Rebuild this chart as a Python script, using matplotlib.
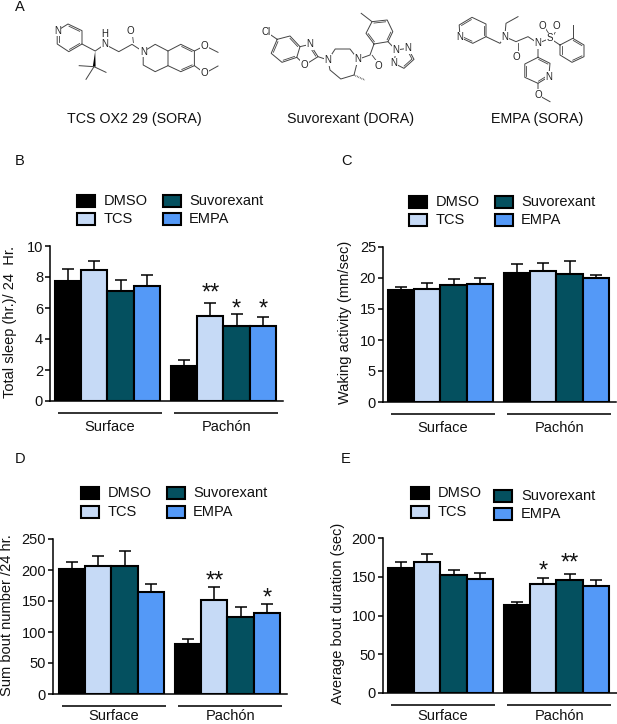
import numpy as np
from matplotlib import pyplot as plt
from matplotlib.patches import Rectangle

plt.rcParams['font.family'] = ['Liberation Sans', 'DejaVu Sans']

W, H = 617, 724

treatments = ["DMSO", "TCS", "Suvorexant", "EMPA"]
colors = ["#000000", "#c6daf6", "#04505f", "#5499f7"]
groups = ["Surface", "Pachón"]

sleep_vals = [7.75, 8.45, 7.1, 7.4, 2.25, 5.5, 4.85, 4.85]
sleep_tops = [8.5, 9.05, 7.8, 8.15, 2.65, 6.3, 5.6, 5.4]
sleep_stars = {5: ("**", 7.3), 6: ("*", 6.3), 7: ("*", 6.3)}

wake_vals = [18, 18.2, 18.8, 19, 20.8, 21.2, 20.7, 20]
wake_tops = [18.5, 19.2, 19.8, 20, 22.3, 22.4, 22.7, 20.5]

bout_vals = [201, 206, 206, 165, 81, 152, 125, 130]
bout_tops = [213, 222, 230, 177, 89, 173, 141, 145]
bout_stars = {5: ("**", 190), 7: ("*", 163)}

dur_vals = [161, 169, 152, 147, 113, 141, 146, 138]
dur_tops = [169, 179, 159, 155, 118, 149, 154, 146]
dur_stars = {5: ("*", 164), 6: ("**", 175)}

MX, MY = 2.5, 3.0
mol_chains = [
    # TCS OX2 29
    [(143, 92), (170, 72), (205, 92), (205, 132), (172, 155), (143, 132), (143, 92)],
    [(205, 132), (238, 153), (262, 133), (297, 155), (330, 133), (358, 155), (388, 133),
     (420, 153), (420, 197), (388, 215), (358, 195), (358, 155)],
    [(420, 153), (452, 133), (486, 153), (486, 197), (452, 215), (420, 197)],
    [(486, 153), (512, 137), (545, 157)], [(486, 197), (512, 220), (545, 198)],
    [(198, 197), (235, 200), (265, 217)], [(235, 200), (215, 238)],
    # Suvorexant
    [(665, 95), (693, 118)],
    [(693, 118), (725, 108), (750, 140), (742, 172), (705, 187), (678, 160), (693, 118)],
    [(750, 140), (775, 133), (795, 170), (762, 195), (742, 172)],
    [(795, 170), (820, 180), (838, 147), (875, 147), (895, 178), (885, 225), (852, 237),
     (825, 210), (820, 180)],
    [(895, 178), (925, 165), (935, 132), (915, 100), (930, 65), (968, 60), (982, 95),
     (970, 125), (935, 132)],
    [(930, 65), (903, 40)], [(970, 125), (990, 150), (1020, 145), (1035, 178), (1010, 205),
                             (985, 190), (990, 150)],
    # EMPA
    [(1150, 112), (1148, 75), (1180, 52), (1215, 72), (1215, 110), (1182, 130), (1150, 112)],
    [(1215, 110), (1250, 130), (1262, 110), (1290, 125), (1320, 110), (1345, 130), (1375, 115),
     (1400, 135), (1432, 115), (1460, 135), (1460, 170), (1430, 187), (1400, 165), (1400, 135)],
    [(1262, 110), (1265, 70), (1295, 50)], [(1432, 115), (1432, 75)],
    [(1345, 130), (1345, 172), (1375, 190), (1372, 230), (1345, 250), (1312, 232), (1312, 192),
     (1345, 172)],
    [(1345, 250), (1345, 285), (1375, 305)],
]
mol_doubles = [
    ((170, 72), (205, 92)), ((205, 132), (172, 155)), ((143, 132), (143, 92)),
    ((330, 133), (326, 93)), ((452, 133), (486, 153)), ((486, 197), (452, 215)),
    ((725, 108), (750, 140)), ((705, 187), (742, 172)), ((678, 160), (693, 118)),
    ((775, 133), (795, 170)), ((925, 165), (945, 197)), ((915, 100), (935, 132)),
    ((930, 65), (968, 60)), ((982, 95), (970, 125)), ((1035, 178), (1010, 205)),
    ((1020, 145), (1035, 178)), ((1148, 75), (1180, 52)), ((1215, 72), (1215, 110)),
    ((1182, 130), (1150, 112)), ((1290, 125), (1290, 170)), ((1375, 115), (1355, 78)),
    ((1375, 115), (1392, 78)), ((1432, 115), (1460, 135)), ((1460, 170), (1430, 187)),
    ((1400, 165), (1400, 135)), ((1345, 172), (1375, 190)), ((1372, 230), (1345, 250)),
    ((1312, 232), (1312, 192)),
]
# second line of a ring double bond goes to the inside of the nearest ring
mol_ring_centers = [(174, 113), (453, 175), (715, 148), (775, 165), (948, 97), (1010, 172),
                    (1182, 92), (1430, 150), (1343, 211)]
mol_labels = [
    ("N", 143, 92), ("H", 263, 103), ("N", 262, 133), ("O", 326, 93), ("N", 358, 155),
    ("O", 512, 137), ("O", 512, 220), ("Cl", 665, 95), ("N", 775, 133), ("O", 762, 195),
    ("N", 820, 180), ("N", 895, 178), ("O", 945, 197), ("N", 990, 150), ("N", 1020, 145),
    ("N", 985, 190), ("N", 1150, 112), ("N", 1262, 110), ("O", 1290, 170), ("N", 1345, 130),
    ("S", 1375, 115), ("O", 1355, 78), ("O", 1392, 78), ("N", 1372, 230), ("O", 1345, 285),
]
mol_names = [("TCS OX2 29 (SORA)", 134), ("Suvorexant (DORA)", 351), ("EMPA (SORA)", 537)]

panel_letters = [("A", 20, 7), ("B", 20, 161), ("C", 346, 161), ("D", 20, 459), ("E", 346, 459)]

fig = plt.figure(figsize=(W / 100, H / 100), dpi=100)

# overlay in picture pixels for the molecules, legends and panel letters
over = fig.add_axes([0, 0, 1, 1], zorder=5)
over.set_xlim(0, W)
over.set_ylim(H, 0)
over.axis("off")


def draw_molecules():
    scale = np.array([MX, MY])
    centers = np.array(mol_ring_centers) / scale
    for chain in mol_chains:
        pts = np.array(chain) / scale
        over.plot(pts[:, 0], pts[:, 1], color="#444444", lw=0.7)
    for a, b in mol_doubles:
        a, b = np.array(a) / scale, np.array(b) / scale
        n = np.array([b[1] - a[1], a[0] - b[0]])
        n = n / np.hypot(*n) * 1.6
        mid = (a + b) / 2
        c = centers[np.argmin(np.hypot(*(centers - mid).T))]
        if np.dot(c - mid, n) < 0:
            n = -n
        a2, b2 = a + 0.12 * (b - a) + n, b - 0.12 * (b - a) + n
        over.plot([a2[0], b2[0]], [a2[1], b2[1]], color="#444444", lw=0.6)
    # wedge and hashed stereo bonds
    over.fill(np.array([238, 232, 239]) / MX, np.array([153, 200, 200]) / MY, color="black", lw=0)
    over.plot(np.array([885, 912]) / MX, np.array([225, 240]) / MY, color="#444444", lw=1.2,
              ls=(0, (0.4, 0.6)))
    for txt, x, y in mol_labels:
        over.text(x / MX, y / MY, txt, fontsize=7, ha="center", va="center", color="#222222",
                  bbox=dict(fc="white", ec="none", pad=0.4))
    for name, x in mol_names:
        over.text(x, 119, name, fontsize=10.3, ha="center", va="center", color="#111111")


def draw_legend(col_x, text_x, row_y):
    # col_x, text_x per column, row_y[col] gives top of swatch for both rows
    for i, name in enumerate(treatments):
        col = i // 2
        row = i % 2
        top = row_y[col][row]
        over.add_patch(Rectangle((col_x[col], top), 18, 11.5, fc=colors[i], ec="black", lw=1.5))
        over.text(text_x[col], top + 6, name, fontsize=10.5, va="center", color="#111111")


def draw_panel(left, right, base, top, bar_left, vals, tops, ymax, yticks, ylabel, ylab_x, ylab_y,
               stars=None, name_drop=30):
    ax = fig.add_axes([left / W, 1 - base / H, (right - left) / W, (base - top) / H])
    bw = 26.2
    x0 = bar_left + bw / 2
    ax.set_xlim((left - x0) / bw, (right - x0) / bw)
    ax.set_ylim(0, ymax)
    pos = [0, 1, 2, 3, 4.43, 5.43, 6.43, 7.43]
    vals = np.array(vals, dtype=float)
    errs = np.array(tops, dtype=float) - vals
    bar_colors = colors + colors
    ax.errorbar(pos, vals, yerr=[np.zeros(8), errs], fmt="none", ecolor="black", elinewidth=1.1,
                capsize=4, capthick=1.1, zorder=1)
    ax.bar(pos, vals, width=1, color=bar_colors, edgecolor="black", linewidth=1.5, zorder=2)
    ax.spines["top"].set_visible(False)
    ax.spines["right"].set_visible(False)
    ax.spines["left"].set_linewidth(1.1)
    ax.spines["bottom"].set_linewidth(1.1)
    ax.set_xticks([])
    ax.set_yticks(yticks)
    ax.tick_params(axis="y", length=3.5, width=1.1, labelsize=10.5, pad=1.5, labelcolor="#111111")

    # group lines and names below the axis
    trans = ax.get_xaxis_transform()
    dy = 1 / (base - top)
    for name, a, b in [(groups[0], pos[0], pos[3]), (groups[1], pos[4], pos[7])]:
        ax.plot([a - 0.4, b + 0.6], [-12 * dy, -12 * dy], color="#222222", lw=1.3, transform=trans,
                clip_on=False, solid_capstyle="butt")
        ax.text((a + b) / 2 + 0.1, -name_drop * dy, name, transform=trans, ha="center",
                va="baseline", fontsize=10.5, color="#111111")

    if stars:
        for idx, (txt, y) in stars.items():
            ax.annotate(txt, (pos[idx], y), xytext=(0, -8.5), textcoords="offset points",
                        ha="center", va="baseline", fontsize=17, color="#111111")

    over.text(ylab_x, ylab_y, ylabel, rotation=90, fontsize=10.5, ha="center", va="center",
              color="#111111")
    return ax


draw_molecules()
for letter, x, y in panel_letters:
    over.text(x, y, letter, fontsize=10.5, ha="center", va="center", color="#111111")

draw_panel(50, 283, 401, 246, 55, sleep_vals, sleep_tops, 10, [0, 2, 4, 6, 8, 10],
           "Total sleep (hr.)/ 24  Hr.", 10, 322, sleep_stars)
draw_panel(383, 616, 402, 247, 388, wake_vals, wake_tops, 25, [0, 5, 10, 15, 20, 25],
           "Waking activity (mm/sec)", 345, 322)
draw_panel(53, 287, 694, 539, 59, bout_vals, bout_tops, 250, [0, 50, 100, 150, 200, 250],
           "Sum bout number /24 hr.", 7, 615, bout_stars, name_drop=26.5)
draw_panel(383, 617, 693, 538, 388, dur_vals, dur_tops, 200, [0, 50, 100, 150, 200],
           "Average bout duration (sec)", 338, 613, dur_stars, name_drop=27)

draw_legend((77, 163), (104, 189), ((195, 213), (195, 213)))
draw_legend((409, 495), (436, 521), ((196, 214), (196, 214)))
draw_legend((81, 167), (108, 193), ((487, 506), (487, 506)))
draw_legend((411, 494), (438, 521), ((487, 506), (490, 508)))

fig.savefig("out.png", dpi=100)
